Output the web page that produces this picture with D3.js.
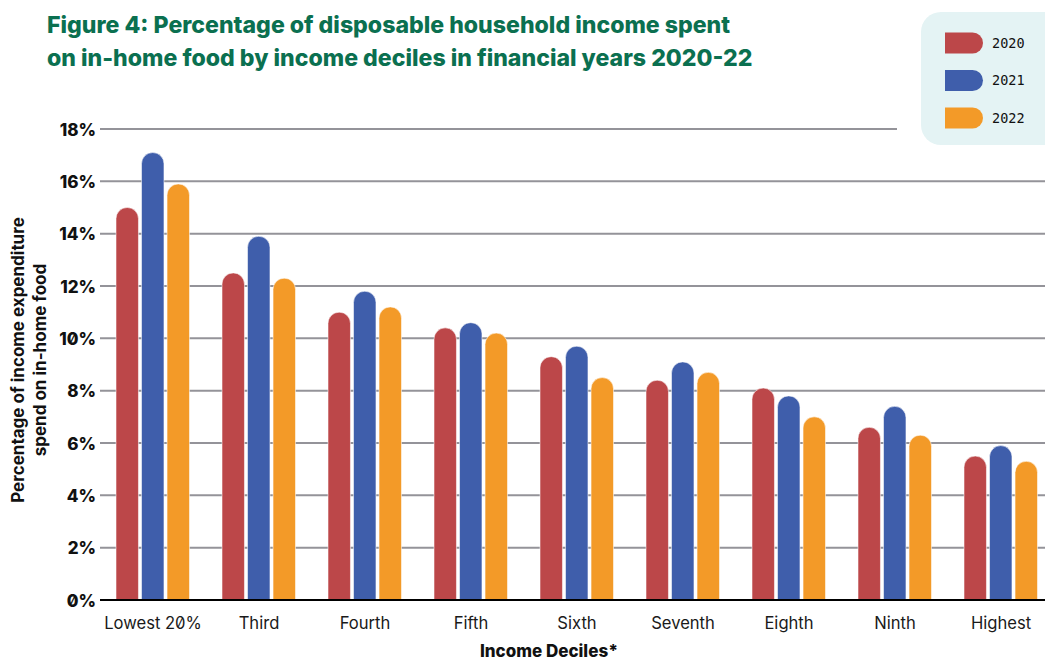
<!DOCTYPE html>
<html>
<head>
<meta charset="utf-8">
<script src="https://cdn.jsdelivr.net/npm/d3@7/dist/d3.min.js"></script>
<style>
  html, body { margin: 0; padding: 0; background: #fff; }
  svg { display: block; font-family: Inter, "Noto Sans", sans-serif; }
  .zero { font-feature-settings: "zero" 1; }
</style>
</head>
<body>
<svg id="chart" width="1045" height="662"></svg>
<script>
// Income deciles and the share of disposable income spent on in-home food (%)
const deciles = ["Lowest 20%", "Third", "Fourth", "Fifth", "Sixth", "Seventh", "Eighth", "Ninth", "Highest"];
const years = ["2020", "2021", "2022"];
const values2020 = [15.0, 12.5, 11.0, 10.4, 9.3, 8.4, 8.1, 6.6, 5.5];
const values2021 = [17.1, 13.9, 11.8, 10.6, 9.7, 9.1, 7.8, 7.4, 5.9];
const values2022 = [15.9, 12.3, 11.2, 10.2, 8.5, 8.7, 7.0, 6.3, 5.3];
const yTicks = [0, 2, 4, 6, 8, 10, 12, 14, 16, 18];
const colors = ["#bc4749", "#3f5eab", "#f39a28"];

const seriesByYear = { "2020": values2020, "2021": values2021, "2022": values2022 };
const rows = deciles.map((d, i) => ({ decile: d, vals: years.map(y => ({ year: y, value: seriesByYear[y][i] })) }));

const svg = d3.select("#chart");
const W = 1045;

const y = d3.scaleLinear().domain([0, 18]).range([600, 129]);
const x = d3.scaleBand().domain(deciles).range([100, 1054]).padding(0);
const xi = d3.scaleBand().domain(years).range([16, 89.5]).paddingInner(0.12).paddingOuter(0);
const color = d3.scaleOrdinal().domain(years).range(colors);

// Horizontal gridlines
svg.append("g")
  .selectAll("line")
  .data(yTicks.filter(t => t > 0))
  .join("line")
  .attr("x1", 100).attr("x2", W)
  .attr("y1", d => y(d)).attr("y2", d => y(d))
  .attr("stroke", "#949399").attr("stroke-width", 2);

// Y axis tick labels
const yAxis = d3.axisLeft(y).tickValues(yTicks).tickFormat(d => d + "%").tickSize(0).tickPadding(4);
const gy = svg.append("g").attr("transform", "translate(100,0)").call(yAxis);
gy.select(".domain").remove();
gy.selectAll("text")
  .attr("class", "zero")
  .attr("font-family", "Inter, sans-serif")
  .attr("font-size", 17).attr("font-weight", 800).attr("fill", "#111")
  .attr("dy", "0.36em");

// Bars with rounded tops
function barPath(x0, w, yTop, yBase) {
  const r = w / 2;
  return `M${x0},${yBase}V${yTop + r}A${r},${r} 0 0 1 ${x0 + w},${yTop + r}V${yBase}Z`;
}
const groups = svg.append("g").selectAll("g")
  .data(rows).join("g")
  .attr("transform", d => `translate(${x(d.decile)},0)`);
groups.selectAll("path")
  .data(d => d.vals)
  .join("path")
  .attr("d", d => barPath(xi(d.year), xi.bandwidth(), y(d.value), y(0)))
  .attr("fill", d => color(d.year))
  .attr("stroke", "#ffffff").attr("stroke-opacity", 0.55).attr("stroke-width", 1);

// Baseline
svg.append("line")
  .attr("x1", 100).attr("x2", W).attr("y1", y(0)).attr("y2", y(0))
  .attr("stroke", "#000").attr("stroke-width", 2.2);

// X axis labels
const xAxis = d3.axisBottom(x).tickSize(0).tickPadding(0);
const gx = svg.append("g").attr("transform", `translate(0,${y(0)})`).call(xAxis);
gx.select(".domain").remove();
gx.selectAll("text")
  .attr("class", "zero")
  .attr("font-family", "Inter, sans-serif")
  .attr("font-size", 16.6).attr("font-weight", 400).attr("fill", "#1a1a1a")
  .attr("dy", 0).attr("y", 29);

// Axis titles
svg.append("text")
  .attr("x", 549).attr("y", 657)
  .attr("text-anchor", "middle")
  .attr("font-size", 17).attr("font-weight", 800).attr("fill", "#111")
  .text("Income Deciles*");

const yTitle = svg.append("g").attr("transform", "translate(0,360) rotate(-90)");
yTitle.append("text").attr("x", 0).attr("y", 24)
  .attr("text-anchor", "middle").attr("font-size", 17).attr("font-weight", 700).attr("fill", "#111")
  .text("Percentage of income expenditure");
yTitle.append("text").attr("x", 0).attr("y", 46)
  .attr("text-anchor", "middle").attr("font-size", 17).attr("font-weight", 700).attr("fill", "#111")
  .text("spend on in-home food");

// Title
const title = svg.append("g").attr("fill", "#0b7050").attr("font-size", 23.1).attr("font-weight", 800);
title.append("text").attr("x", 47).attr("y", 33)
  .text("Figure 4: Percentage of disposable household income spent");
title.append("text").attr("x", 47).attr("y", 66)
  .text("on in-home food by income deciles in financial years 2020-22");

// Legend
const legend = svg.append("g");
legend.append("rect").attr("x", 897).attr("y", 0).attr("width", 148).attr("height", 150).attr("fill", "#fff");
legend.append("rect").attr("x", 921).attr("y", 12).attr("width", 150).attr("height", 133)
  .attr("rx", 20).attr("fill", "#e4f3f4");
const legendY = d3.scalePoint().domain(years).range([43, 118]);
const items = legend.selectAll("g.item").data(years).join("g")
  .attr("class", "item")
  .attr("transform", d => `translate(945,${legendY(d)})`);
items.append("path")
  .attr("d", "M0,-10.5H27.5A10.5,10.5 0 0 1 27.5,10.5H0Z")
  .attr("fill", d => color(d));
items.append("text")
  .attr("x", 47).attr("y", 0).attr("dy", "0.36em")
  .attr("font-family", "'DejaVu Sans Mono', monospace")
  .attr("font-size", 13.5).attr("fill", "#111")
  .text(d => d);
</script>
</body>
</html>
